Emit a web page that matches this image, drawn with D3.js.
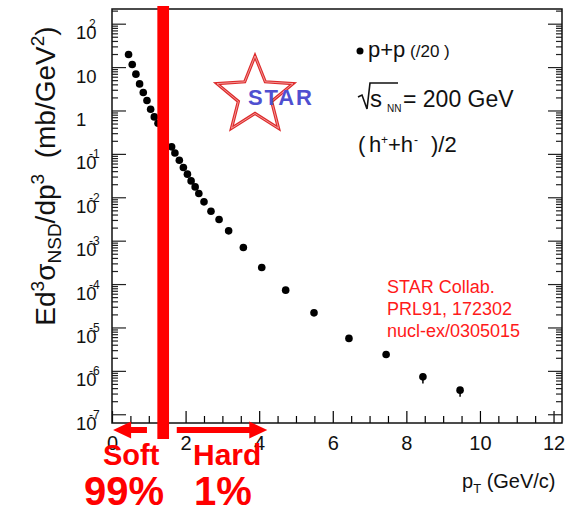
<!DOCTYPE html>
<html>
<head>
<meta charset="utf-8">
<script src="https://cdn.jsdelivr.net/npm/d3@7"></script>
<style>
  body { margin: 0; background: #fff; }
  svg text { font-family: "Liberation Sans", Arial, Helvetica, sans-serif; }
</style>
</head>
<body>
<svg id="chart" width="576" height="512"></svg>
<script>
// p+p (/20) charged hadron spectrum
var pt = [0.45, 0.55, 0.65, 0.75, 0.85, 0.95, 1.05, 1.15, 1.25,
          1.62, 1.71, 1.83, 1.94, 2.05, 2.15, 2.26, 2.36,
          2.50, 2.69, 2.91, 3.17, 3.57, 4.07, 4.72, 5.49, 6.44, 7.45, 8.45, 9.46];
var xsec = [20.0, 11.8, 7.05, 4.21, 2.67, 1.75, 1.10, 0.731, 0.52,
            0.149, 0.108, 0.0735, 0.0499, 0.035, 0.0245, 0.0178, 0.01256,
            8.05e-3, 4.91e-3, 3.16e-3, 1.73e-3, 7.16e-4, 2.48e-4, 7.43e-5, 2.23e-5,
            5.75e-6, 2.45e-6, 7.48e-7, 3.69e-7];
// relative errors (only visible on the last points)
var errRel = [0, 0, 0, 0, 0, 0, 0, 0, 0,
              0, 0, 0, 0, 0, 0, 0, 0,
              0, 0, 0, 0, 0, 0, 0, 0.05, 0.08, 0.12, 0.3, 0.3];

var xTicks = d3.range(0, 12.01, 0.5);
var xLabels = [0, 2, 4, 6, 8, 10, 12];
var yExponents = [2, 1, 0, -1, -2, -3, -4, -5, -6, -7];

// soft / hard split and arrows (pT units)
var splitPt = 1.39;
var softArrow = [0.95, 0.03];
var hardArrow = [1.76, 4.22];

var refLines = ["STAR Collab.", "PRL91, 172302", "nucl-ex/0305015"];

var svg = d3.select("#chart");
var x = d3.scaleLinear().domain([0, 12.23]).range([112, 562]);
var y = d3.scaleLog().domain([Math.pow(10, -7.19), Math.pow(10, 2.35)]).range([423, 9]);

////////////////////////////////////////////////////////
// Axes
////////////////////////////////////////////////////////
var gx = svg.append("g").attr("transform", "translate(0,423)")
  .call(d3.axisBottom(x).tickValues(xTicks).tickSize(-7).tickSizeOuter(0)
    .tickFormat(function (d) { return xLabels.indexOf(d) >= 0 ? d : ""; }));
gx.selectAll(".tick line")
  .attr("y2", function (d) { return xLabels.indexOf(d) >= 0 ? -12 : -7; })
  .attr("stroke-width", 1.2);
gx.selectAll(".tick text").attr("y", 27).attr("dy", null)
  .attr("font-size", 20).attr("fill", "#111");
gx.select(".domain").remove();

// log ticks: majors at decades, minors 2..9
var logTicks = [];
yExponents.forEach(function (e) {
  for (var m = 1; m < 10; m++) {
    var v = m * Math.pow(10, e);
    if (v >= y.domain()[0] && v <= y.domain()[1]) logTicks.push({ v: v, major: m === 1 });
  }
});
[["left", 112, 1], ["right", 562, -1]].forEach(function (s) {
  svg.append("g").selectAll("line").data(logTicks).join("line")
    .attr("x1", s[1])
    .attr("x2", function (d) { return s[1] + s[2] * (d.major ? 14 : 6); })
    .attr("y1", function (d) { return y(d.v); })
    .attr("y2", function (d) { return y(d.v); })
    .attr("stroke", "#222").attr("stroke-width", 1.2);
});

// y labels: 10^n with small exponent tucked on the 0
var yl = svg.append("g").selectAll("g").data(yExponents).join("g")
  .attr("transform", function (e) { return "translate(76," + y(Math.pow(10, e)) + ")"; });
yl.append("text").attr("y", 15).attr("font-size", 18.5).attr("fill", "#111")
  .text(function (e) { return e === 0 ? "1" : "10"; });
yl.filter(function (e) { return e !== 1 && e !== 0; })
  .append("text").attr("x", 13).attr("y", 4).attr("font-size", 12).attr("fill", "#111")
  .text(function (e) { return e < 0 ? "-" + (-e) : e; });

// frame
svg.append("rect").attr("x", 112).attr("y", 9).attr("width", 450).attr("height", 414)
  .attr("fill", "none").attr("stroke", "#111").attr("stroke-width", 1.5);

// axis titles
var yt = svg.append("text").attr("transform", "translate(55,176) rotate(-90)")
  .attr("text-anchor", "middle").attr("font-size", 28).attr("fill", "#111");
yt.append("tspan").text("Ed");
yt.append("tspan").attr("font-size", 19).attr("dy", -11).text("3");
yt.append("tspan").attr("dy", 11).text("\u03c3");
yt.append("tspan").attr("font-size", 19).attr("dy", 6).text("NSD");
yt.append("tspan").attr("dy", -6).text("/dp");
yt.append("tspan").attr("font-size", 19).attr("dy", -11).text("3");
yt.append("tspan").attr("dy", 11).text("\u00a0 (mb/GeV");
yt.append("tspan").attr("font-size", 19).attr("dy", -11).text("2");
yt.append("tspan").attr("dy", 11).text(")");

var xt = svg.append("text").attr("x", 462).attr("y", 488).attr("font-size", 20).attr("fill", "#111");
xt.append("tspan").text("p");
xt.append("tspan").attr("font-size", 13).attr("dy", 5).text("T");
xt.append("tspan").attr("dy", -5).text(" (GeV/c)");

////////////////////////////////////////////////////////
// Data
////////////////////////////////////////////////////////
var pts = pt.map(function (p, i) { return { pt: p, v: xsec[i], e: errRel[i] }; });

svg.append("g").selectAll("line").data(pts.filter(function (d) { return d.e > 0; })).join("line")
  .attr("x1", function (d) { return x(d.pt); })
  .attr("x2", function (d) { return x(d.pt); })
  .attr("y1", function (d) { return y(d.v * (1 + d.e * 0.6)); })
  .attr("y2", function (d) { return y(d.v * (1 - d.e)); })
  .attr("stroke", "#000").attr("stroke-width", 1.5);

svg.append("g").selectAll("circle").data(pts).join("circle")
  .attr("cx", function (d) { return x(d.pt); })
  .attr("cy", function (d) { return y(d.v); })
  .attr("r", 3.8).attr("fill", "#000");

////////////////////////////////////////////////////////
// Legend, logo, reference
////////////////////////////////////////////////////////
svg.append("circle").attr("cx", 360).attr("cy", 51).attr("r", 3.5).attr("fill", "#000");
var lg = svg.append("text").attr("x", 368).attr("y", 57).attr("font-size", 22).attr("fill", "#111");
lg.append("tspan").text("p+p");
lg.append("tspan").attr("font-size", 17).text(" (/20 )");

svg.append("path").attr("d", "M358,97 L362,95 L367,109 L370,83 L398,83")
  .attr("fill", "none").attr("stroke", "#111").attr("stroke-width", 1.6);
svg.append("text").attr("x", 370).attr("y", 107).attr("font-size", 24).attr("fill", "#111").text("s");
svg.append("text").attr("x", 387).attr("y", 112).attr("font-size", 10).attr("fill", "#111").text("NN");
svg.append("text").attr("x", 403).attr("y", 107).attr("font-size", 23).attr("fill", "#111").text("= 200 GeV");

var hh = svg.append("g").attr("font-size", 22).attr("fill", "#111");
hh.append("text").attr("x", 358).attr("y", 152).text("(");
hh.append("text").attr("x", 369).attr("y", 152).text("h");
hh.append("text").attr("x", 381).attr("y", 144).attr("font-size", 12).text("+");
hh.append("text").attr("x", 388).attr("y", 152).text("+h");
hh.append("text").attr("x", 414).attr("y", 144).attr("font-size", 12).text("-");
hh.append("text").attr("x", 431).attr("y", 152).text(")/2");

// STAR logo
var starPts = function (cx, cy, ro, ri) {
  var p = [];
  for (var k = 0; k < 10; k++) {
    var a = -Math.PI / 2 + k * Math.PI / 5, r = k % 2 ? ri : ro;
    p.push([cx + r * Math.cos(a), cy + r * Math.sin(a)]);
  }
  return "M" + p.join("L") + "Z";
};
svg.append("path").attr("d", starPts(255, 96, 40, 17.5))
  .attr("fill", "none").attr("stroke", "#dd2b2b").attr("stroke-width", 3.2).attr("stroke-linejoin", "miter");
svg.append("path").attr("d", starPts(255, 96, 40, 17.5))
  .attr("fill", "none").attr("stroke", "#f6b0b0").attr("stroke-width", 0.8);
svg.append("text").attr("x", 248).attr("y", 105).attr("font-size", 22).attr("font-weight", "bold")
  .attr("fill", "#4f4fd0").attr("textLength", 64).text("STAR");

svg.append("g").selectAll("text").data(refLines).join("text")
  .attr("x", 387).attr("y", function (d, i) { return 293 + i * 22; })
  .attr("font-size", 18).attr("fill", "#ff1a1a").text(function (d) { return d; });

////////////////////////////////////////////////////////
// Soft / hard annotation
////////////////////////////////////////////////////////
svg.append("rect").attr("x", x(splitPt) - 5.8).attr("y", 6).attr("width", 11.7).attr("height", 433)
  .attr("fill", "#ff0000");

var arrow = function (from, to) {
  var x0 = x(from), x1 = x(to), dir = x1 > x0 ? 1 : -1, hb = x1 - dir * 18;
  return "M" + x0 + ",427 L" + hb + ",427 L" + hb + ",421.5 L" + x1 + ",430 L" + hb + ",438.5 L" +
    hb + ",433 L" + x0 + ",433 Z";
};
svg.append("path").attr("d", arrow(softArrow[0], softArrow[1])).attr("fill", "#ff0000");
svg.append("path").attr("d", arrow(hardArrow[0], hardArrow[1])).attr("fill", "#ff0000");

var red = svg.append("g").attr("fill", "#ff0000").attr("font-weight", "bold");
red.append("text").attr("x", 103).attr("y", 465).attr("font-size", 29).text("Soft");
red.append("text").attr("x", 193).attr("y", 465).attr("font-size", 30).text("Hard");
red.append("text").attr("x", 84).attr("y", 505).attr("font-size", 40).text("99%");
red.append("text").attr("x", 194).attr("y", 505).attr("font-size", 40).text("1%");
</script>
</body>
</html>
